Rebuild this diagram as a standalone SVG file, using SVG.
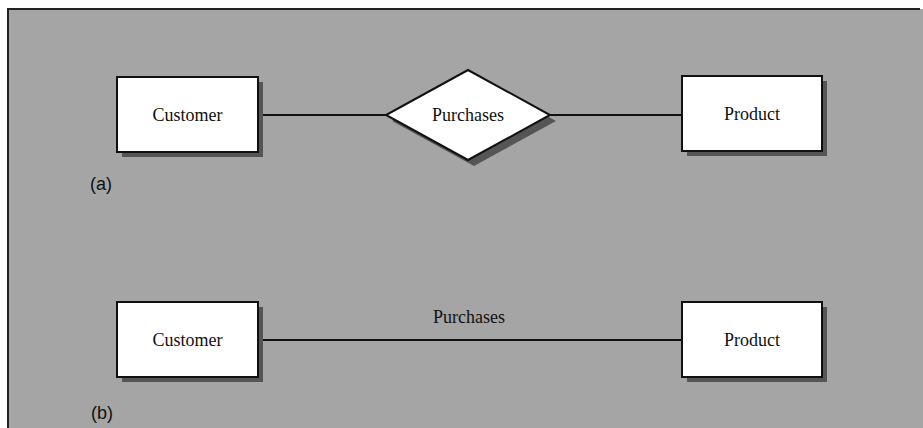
<svg xmlns="http://www.w3.org/2000/svg" width="923" height="428" viewBox="0 0 923 428">
<style>
.bg{fill:#a5a5a5}
.frame{stroke:#222;stroke-width:2;fill:none}
.box{fill:#fff;stroke:#111;stroke-width:2}
.shadow{fill:#555}
.lbl{font-family:"Liberation Serif","Times New Roman",serif;font-size:18px;fill:#111;text-anchor:middle}
.tag{font-family:"Liberation Sans",Arial,sans-serif;font-size:18px;fill:#111}
.conn{stroke:#111;stroke-width:2;fill:none}
</style>
<rect x="0" y="0" width="923" height="428" fill="#fff"/>
<rect class="bg" x="8" y="9" width="915" height="419"/>
<path class="frame" d="M8,428 V9 H920"/>
<g id="connectors">
<line class="conn" x1="258" y1="115" x2="386" y2="115"/>
<line class="conn" x1="550" y1="115" x2="682" y2="115"/>
<line class="conn" x1="258" y1="340" x2="682" y2="340"/>
</g>
<g id="customer-a">
<rect class="shadow" x="122" y="82" width="141" height="75"/>
<rect class="box" x="117" y="77" width="141" height="75"/>
<text class="lbl" x="187.5" y="121">Customer</text>
</g>
<g id="purchases-a">
<polygon class="shadow" points="474,76 556,121 474,166 392,121"/>
<polygon class="box" points="468,70 550,115 468,160 386,115"/>
<text class="lbl" x="468" y="121">Purchases</text>
</g>
<g id="product-a">
<rect class="shadow" x="687" y="81" width="140" height="75"/>
<rect class="box" x="682" y="76" width="140" height="75"/>
<text class="lbl" x="752" y="120">Product</text>
</g>
<text class="tag" x="90" y="190">(a)</text>
<g id="customer-b">
<rect class="shadow" x="122" y="307" width="141" height="75"/>
<rect class="box" x="117" y="302" width="141" height="75"/>
<text class="lbl" x="187.5" y="346">Customer</text>
</g>
<g id="product-b">
<rect class="shadow" x="687" y="307" width="140" height="75"/>
<rect class="box" x="682" y="302" width="140" height="75"/>
<text class="lbl" x="752" y="346">Product</text>
</g>
<text class="lbl" x="469" y="323">Purchases</text>
<text class="tag" x="91" y="419">(b)</text>
</svg>
